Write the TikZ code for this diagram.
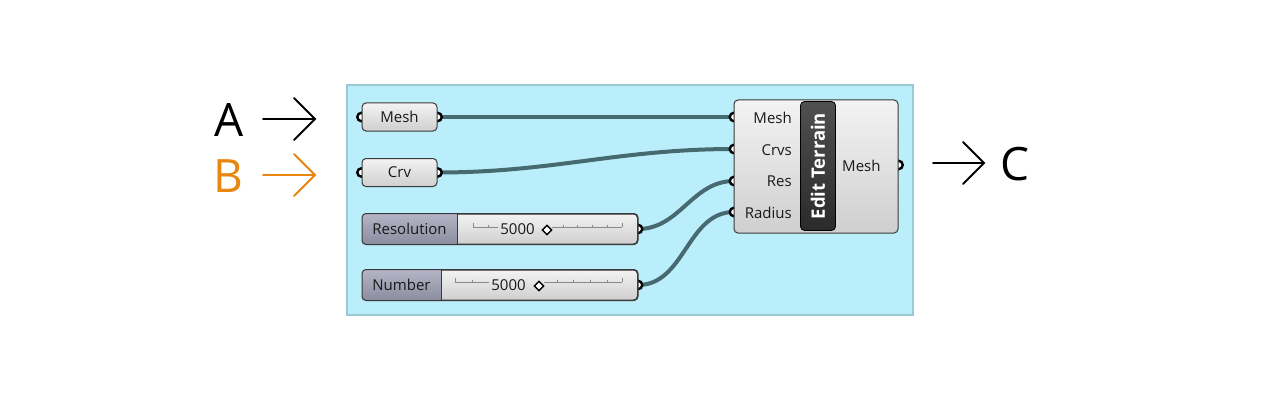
\documentclass[tikz,border=0pt]{standalone}
\usepackage{fontspec}
\setmainfont{Open Sans}
\usetikzlibrary{arrows.meta}
\definecolor{panelfill}{HTML}{B9EEFA}
\definecolor{paneldraw}{HTML}{9CC9D6}
\definecolor{wirecol}{HTML}{476970}
\definecolor{nodetop}{HTML}{F3F3F3}
\definecolor{nodebot}{HTML}{CFCFCF}
\definecolor{nodeline}{HTML}{3A3A3A}
\definecolor{lbltop}{HTML}{B4B4C6}
\definecolor{lblbot}{HTML}{8C8CA0}
\definecolor{darktop}{HTML}{505050}
\definecolor{darkbot}{HTML}{2A2A2A}
\definecolor{trackcol}{HTML}{8A8A8A}
\definecolor{orangeB}{HTML}{E8860F}
\pgfdeclarelayer{panellayer}
\pgfdeclarelayer{wirelayer}
\pgfdeclarelayer{portlayer}
\pgfsetlayers{panellayer,wirelayer,portlayer,main}
\tikzset{
  ghbox/.style={draw=nodeline, line width=1pt, rounded corners=4pt,
    top color=nodetop, bottom color=nodebot, inner sep=0pt,
    font=\fontsize{15}{15}\selectfont, text=black!90},
  ghtext/.style={inner sep=0pt, font=\fontsize{15}{15}\selectfont, text=black!90},
  ghport/.style={circle, draw=black, line width=2.4pt, fill=white,
    minimum size=8.5pt, inner sep=0pt},
  wire/.style={draw=wirecol, line width=4pt},
  track/.style={draw=trackcol, line width=0.6pt},
  knob/.style={draw=black, fill=white, line width=1.5pt, rotate=45,
    minimum size=6.5pt, inner sep=0pt},
  bigletter/.style={inner sep=0pt, font=\fontsize{46}{46}\selectfont},
  chevron/.style={line width=1.8pt, line cap=round, line join=miter},
}
\begin{document}
\begin{tikzpicture}[x=1pt,y=-1pt]
\useasboundingbox (0,0) rectangle (1281,401);

% background and panel
\begin{pgfonlayer}{panellayer}
\fill[white] (0,0) rectangle (1281,401);
\draw[fill=panelfill, draw=paneldraw, line width=1.2pt] (347,85) rectangle (913,315);
\end{pgfonlayer}

% A B C and arrows
\node[bigletter] (A) at (229,120) {A};
\node[bigletter, text=orangeB] (B) at (228,176) {B};
\node[bigletter] (C) at (1015,164) {C};
\coordinate (aS) at (263,119); \coordinate (aE) at (315,119);
\coordinate (bS) at (263,175); \coordinate (bE) at (315,175);
\coordinate (cS) at (933,163); \coordinate (cE) at (984,163);
\draw[chevron] (aS) -- (aE) (aE) ++(-21,-21) -- (aE) -- ++(-21,21);
\draw[chevron, draw=orangeB] (bS) -- (bE) (bE) ++(-21,-21) -- (bE) -- ++(-21,21);
\draw[chevron] (cS) -- (cE) (cE) ++(-21,-21) -- (cE) -- ++(-21,21);

% Mesh and Crv params
\node[ghbox, minimum width=75pt, minimum height=28pt] (mesh) at (399.5,117) {Mesh};
\node[ghbox, minimum width=75pt, minimum height=28pt] (crv) at (399.5,172.5) {Crv};

% Resolution slider
\node[ghbox, minimum width=275pt, minimum height=30pt, anchor=west] (res) at (362,229) {};
\begin{scope}
\clip[rounded corners=4pt] (res.south west) rectangle (res.north east);
\fill[top color=lbltop, bottom color=lblbot] (res.south west) rectangle (457,214);
\end{scope}
\draw[nodeline, line width=1pt] (457,214) -- (457,244);
\draw[nodeline, line width=1pt, rounded corners=4pt] (res.south west) rectangle (res.north east);
\node[ghtext] (resLbl) at (409.5,229) {Resolution};
\draw[track] (473,227) -- (498,227) (552,227) -- (622,227);
\draw[track] (473,223) -- (473,227) (622,223) -- (622,227);
\foreach \t in {488,563,577,592,607} {\draw[track] (\t,224.5) -- (\t,227);}
\node[ghtext] (resVal) at (517.5,229.5) {5000};
\node[knob] (resKnob) at (547,230) {};

% Number slider
\node[ghbox, minimum width=275pt, minimum height=30pt, anchor=west] (num) at (362,285) {};
\begin{scope}
\clip[rounded corners=4pt] (num.south west) rectangle (num.north east);
\fill[top color=lbltop, bottom color=lblbot] (num.south west) rectangle (441,270);
\end{scope}
\draw[nodeline, line width=1pt] (441,270) -- (441,300);
\draw[nodeline, line width=1pt, rounded corners=4pt] (num.south west) rectangle (num.north east);
\node[ghtext] (numLbl) at (401.5,285) {Number};
\draw[track] (455,282) -- (489,282) (544,282) -- (622,282);
\draw[track] (455,278) -- (455,282) (622,278) -- (622,282);
\foreach \t in {472,557,573,590,607} {\draw[track] (\t,279.5) -- (\t,282);}
\node[ghtext] (numVal) at (508.5,285.5) {5000};
\node[knob] (numKnob) at (539,286) {};

% Edit Terrain component
\node[ghbox, minimum width=164pt, minimum height=133pt] (et) at (816,166.5) {};
\node[draw=black, line width=0.8pt, rounded corners=4pt, top color=darktop, bottom color=darkbot,
      rotate=90, minimum width=129pt, minimum height=35pt, inner sep=0pt, text=white,
      font=\bfseries\fontsize{18.5}{18.5}\selectfont] (etLbl) at (818,166) {Edit Terrain};
\node[ghtext, anchor=east] (inMesh) at (792,118) {Mesh};
\node[ghtext, anchor=east] (inCrvs) at (792,150) {Crvs};
\node[ghtext, anchor=east] (inRes) at (792,181.5) {Res};
\node[ghtext, anchor=east] (inRad) at (792,213) {Radius};
\node[ghtext, anchor=west] (outMesh) at (842,165.5) {Mesh};

% ports
\begin{pgfonlayer}{portlayer}
\node[ghport] (meshIn) at (mesh.west) {};
\node[ghport] (meshOut) at (mesh.east) {};
\node[ghport] (crvIn) at (crv.west) {};
\node[ghport] (crvOut) at (crv.east) {};
\node[ghport] (resOut) at (res.east) {};
\node[ghport] (numOut) at (num.east) {};
\node[ghport] (etP1) at (734,117) {};
\node[ghport] (etP2) at (734,149) {};
\node[ghport] (etP3) at (734,181) {};
\node[ghport] (etP4) at (734,212) {};
\node[ghport] (etOut) at (et.east |- 0,165) {};
\end{pgfonlayer}

% wires
\begin{pgfonlayer}{wirelayer}
\draw[wire] (meshOut.center) -- (etP1.center);
\draw[wire] (crvOut.center) to[out=0, in=180] (etP2.center);
\draw[wire] (resOut.center) to[out=0, in=180] (etP3.center);
\draw[wire] (numOut.center) to[out=0, in=180] (etP4.center);
\end{pgfonlayer}
\end{tikzpicture}
\end{document}
